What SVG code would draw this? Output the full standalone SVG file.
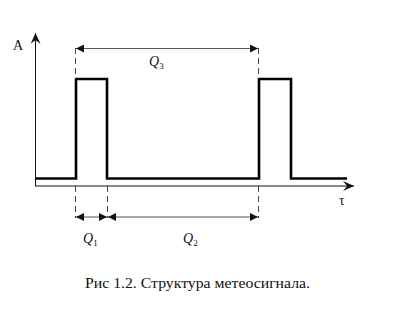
<svg xmlns="http://www.w3.org/2000/svg" width="400" height="334" viewBox="0 0 400 334">
<defs>
<marker id="tri" viewBox="0 0 10 10" refX="10" refY="5" markerWidth="10" markerHeight="8" markerUnits="userSpaceOnUse" orient="auto-start-reverse">
<path d="M0,0 L10,5 L0,10 Z" fill="#111"/>
</marker>
<marker id="open" viewBox="0 0 12 10" refX="11" refY="5" markerWidth="12" markerHeight="10" markerUnits="userSpaceOnUse" orient="auto">
<path d="M0,0 L11,5 L0,10 L4,5 Z" fill="#111"/>
</marker>
</defs>
<style>
.axis{stroke:#111;stroke-width:1;fill:none}
.sig{stroke:#000;stroke-width:2.6;fill:none;stroke-linejoin:miter}
.dash{stroke:#444;stroke-width:1;stroke-dasharray:6,4;fill:none}
.dim{stroke:#555;stroke-width:1;fill:none}
.q{font-family:"Liberation Serif",serif;font-style:italic;font-size:14px;fill:#111}
.t{font-family:"Liberation Serif",serif;font-size:14px;fill:#111}
</style>
<rect width="400" height="334" fill="#fff"/>
<g id="axes">
<line class="axis" x1="35.5" y1="186" x2="35.5" y2="33" marker-end="url(#open)"/>
<line class="axis" x1="35" y1="186" x2="354" y2="186" marker-end="url(#open)"/>
<text class="t" x="13" y="50">A</text>
<text class="t" x="339" y="205">τ</text>
</g>
<g id="signal">
<polyline class="sig" points="35,178.5 76,178.5 76,79 107,79 107,178.5 259,178.5 259,79 291,79 291,178.5 347,178.5"/>
</g>
<g id="connectors">
<line class="dash" x1="75.5" y1="48" x2="75.5" y2="79"/>
<line class="dash" x1="258.5" y1="48" x2="258.5" y2="79"/>
<line class="dash" x1="75.5" y1="186" x2="75.5" y2="218"/>
<line class="dash" x1="107.5" y1="186" x2="107.5" y2="218"/>
<line class="dash" x1="258.5" y1="186" x2="258.5" y2="218"/>
<line class="dim" x1="76" y1="48.5" x2="258" y2="48.5" marker-start="url(#tri)" marker-end="url(#tri)"/>
<line class="dim" x1="76" y1="217" x2="107" y2="217" marker-start="url(#tri)" marker-end="url(#tri)"/>
<line class="dim" x1="108" y1="217" x2="258" y2="217" marker-start="url(#tri)" marker-end="url(#tri)"/>
</g>
<g id="labels">
<text class="q" x="149" y="66">Q<tspan font-size="9" font-style="normal" dy="3">3</tspan></text>
<text class="q" x="83" y="243">Q<tspan font-size="9" font-style="normal" dy="3">1</tspan></text>
<text class="q" x="183" y="243">Q<tspan font-size="9" font-style="normal" dy="3">2</tspan></text>
</g>
<text class="t" x="85" y="288" font-size="16.5" textLength="225" lengthAdjust="spacingAndGlyphs">Рис 1.2. Структура метеосигнала.</text>
</svg>
